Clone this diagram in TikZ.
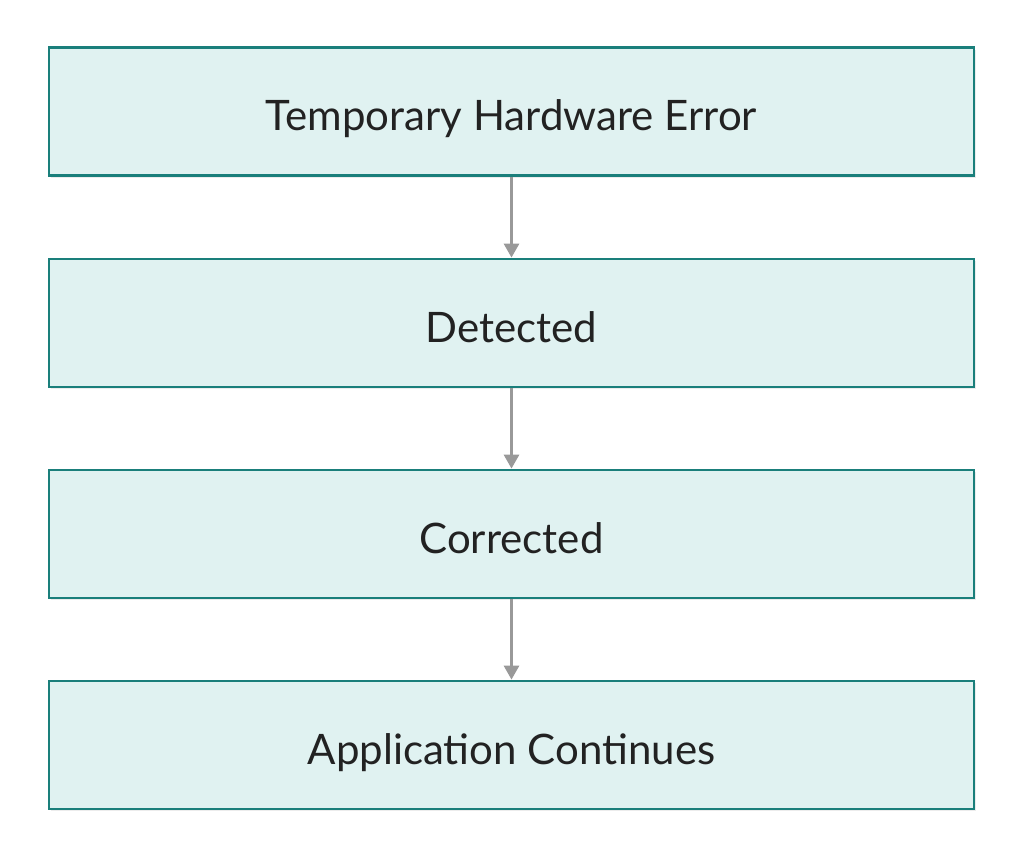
\documentclass[tikz,border=0pt]{standalone}
\usepackage{fontspec}
\setmainfont{Lato}
\usetikzlibrary{arrows.meta,shadows}
\definecolor{boxfill}{HTML}{E0F2F1}
\definecolor{boxline}{HTML}{1A7F7B}
\definecolor{arr}{HTML}{999999}
\definecolor{txt}{HTML}{222222}
\newcommand{\lowtext}[1]{\smash{\raisebox{-19pt}{#1}}}
\begin{document}
\begin{tikzpicture}[x=1pt,y=-1pt,
  box/.style={draw=boxline,line width=2.8pt,fill=boxfill,minimum width=925pt,minimum height=128pt,
    inner sep=0pt,font=\fontsize{42}{48}\selectfont,text=txt,
    drop shadow={shadow xshift=2pt,shadow yshift=-2pt,opacity=0.15}},
  conn/.style={draw=arr,line width=3pt,-{Triangle[length=14pt,width=15pt]}}]
\useasboundingbox (0,0) rectangle (1026,865);
\node[box] (a) at (511.5,111.5) {\lowtext{Temporary Hardware Error}};
\node[box] (b) at (511.5,323) {\lowtext{Detected}};
\node[box] (c) at (511.5,534) {\lowtext{Corrected}};
\node[box] (d) at (511.5,745) {\lowtext{Application Continues}};
\draw[conn] (a) -- (b);
\draw[conn] (b) -- (c);
\draw[conn] (c) -- (d);
\end{tikzpicture}
\end{document}
